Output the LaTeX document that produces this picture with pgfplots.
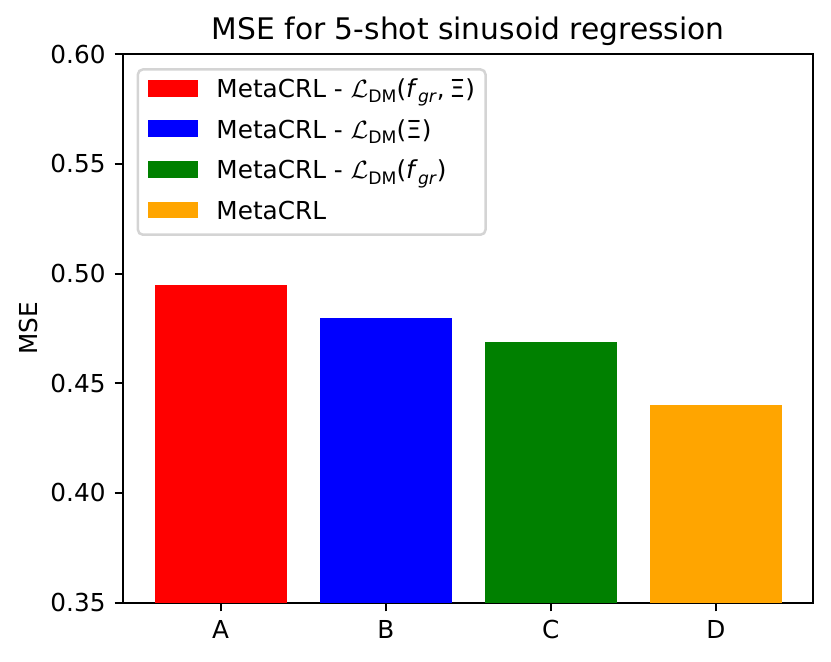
\documentclass[border=0pt]{standalone}
\usepackage{fontspec}
\setmainfont{DejaVu Sans}
\usepackage{pgfplots}
\pgfplotsset{compat=1.18}
\definecolor{mplorange}{RGB}{255,165,0}
\definecolor{mplgreen}{RGB}{0,128,0}
\newcommand\sub[1]{\raisebox{-0.22em}{\fontsize{6.2}{7}\selectfont #1}}
\begin{document}
\begin{tikzpicture}
\path[use as bounding box] (-44.39pt,-21.35pt) rectangle (254.77pt,216.95pt);
\begin{axis}[
  at={(0,0)}, anchor=south west,
  scale only axis,
  width=248.4pt, height=197.4pt,
  xmin=-0.59, xmax=3.59,
  ymin=0.35, ymax=0.60,
  xtick={0,1,2,3},
  xticklabels={A,B,C,D},
  ytick={0.35,0.40,0.45,0.50,0.55,0.60},
  yticklabel style={inner xsep=3.1pt, /pgf/number format/.cd, fixed, fixed zerofill, precision=2},
  /pgf/number format/assume math mode=true,
  tick align=outside,
  tick pos=left,
  major tick length=3.1pt,
  tick style={line width=0.71pt, black},
  axis line style={line width=0.71pt},
  ticklabel style={font=\fontsize{8.9}{10.7}\selectfont},
  xticklabel style={inner ysep=3.1pt},
  ylabel={MSE},
  every axis y label/.style={at={(axis description cs:-0.138,0.5)}, anchor=center, rotate=90, font=\fontsize{8.9}{10.7}\selectfont},
  title={MSE for 5-shot sinusoid regression},
  every axis title/.style={at={(axis description cs:0.5,1)}, anchor=base, yshift=5.2pt, font=\fontsize{10.7}{12.8}\selectfont},
  legend style={at={(0,1)}, anchor=north west, xshift=4.8pt, yshift=-5pt,
    draw=black!17, line width=0.9pt, rounded corners=1.8pt, fill=white,
    font=\fontsize{8.9}{10.7}\selectfont, row sep=5.1pt, column sep=6.8pt,
    inner xsep=3.8pt, inner ysep=3.1pt,
    nodes={inner xsep=0pt, inner ysep=0pt, text height=7pt, text depth=2.5pt}},
  legend cell align=left,
  legend image code/.code={\fill[#1, sharp corners] (0pt,-2pt) rectangle (17.7pt,4.1pt);},
]
\addplot[ybar, bar width=0.8, bar shift=0pt, fill=red, draw=none] coordinates {(0,0.495)};
\addlegendentry{MetaCRL - $\mathcal{L}$\sub{DM}(\textit{f}\sub{\textit{gr}},\hspace{0.2em}Ξ)}
\addplot[ybar, bar width=0.8, bar shift=0pt, fill=blue, draw=none] coordinates {(1,0.480)};
\addlegendentry{MetaCRL - $\mathcal{L}$\sub{DM}(Ξ)}
\addplot[ybar, bar width=0.8, bar shift=0pt, fill=mplgreen, draw=none] coordinates {(2,0.469)};
\addlegendentry{MetaCRL - $\mathcal{L}$\sub{DM}(\textit{f}\sub{\textit{gr}})}
\addplot[ybar, bar width=0.8, bar shift=0pt, fill=mplorange, draw=none] coordinates {(3,0.440)};
\addlegendentry{MetaCRL}
\end{axis}
\end{tikzpicture}
\end{document}
